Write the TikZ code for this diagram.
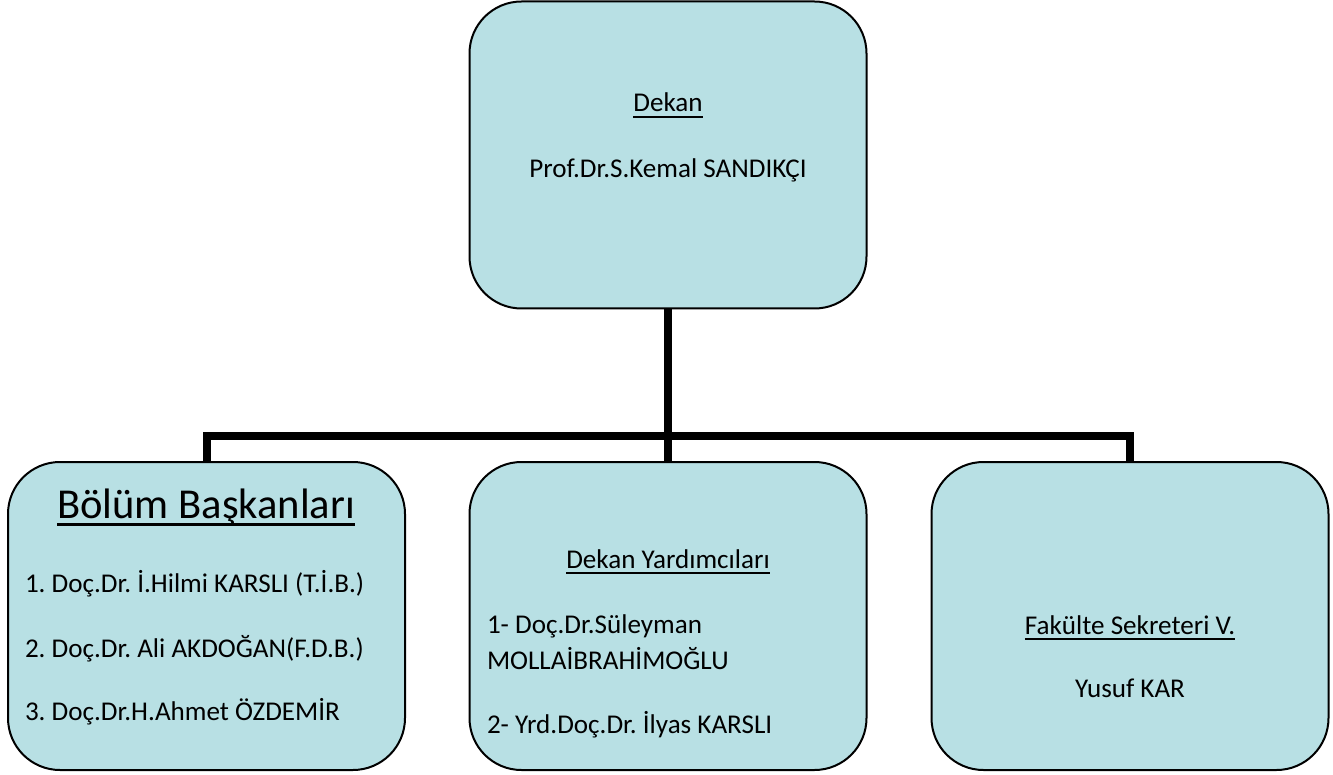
\documentclass[tikz,border=0pt]{standalone}
\usepackage{fontspec}
\setmainfont{Carlito}
\usetikzlibrary{backgrounds}
\definecolor{boxfill}{HTML}{B8E0E4}
\frenchspacing
\tikzset{
  orgbox/.style={draw=black, line width=2pt, fill=boxfill, rounded corners=52pt,
    minimum width=397pt, minimum height=308pt, inner sep=0pt},
  conn/.style={line width=8pt, line join=miter, line cap=butt},
  txt/.style={inner sep=0pt, outer sep=0pt, font=\frenchspacing\fontsize{27.1}{32}\selectfont},
  bigtxt/.style={inner sep=0pt, outer sep=0pt, font=\frenchspacing\fontsize{42.6}{50}\selectfont},
  uline/.style={line width=1.7pt},
}
\begin{document}
\begin{tikzpicture}[x=1pt,y=-1pt]
\useasboundingbox (0,0) rectangle (1333,775);
% boxes
\node[orgbox, minimum height=307pt] (top) at (668,155) {};
\node[orgbox] (bl) at (206.5,616) {};
\node[orgbox] (mid) at (668,616) {};
\node[orgbox] (br) at (1130,616) {};
\coordinate (bus) at (668,436);
% connectors
\begin{pgfonlayer}{background}
\draw[conn] (top.south) -- (mid.north);
\draw[conn] (bl.north) |- (bus) -| (br.north);
\end{pgfonlayer}
% texts top
\node[txt, anchor=base] (tdekan) at (668,112) {Dekan};
\draw[uline] ([yshift=-5pt]tdekan.base west) -- ([yshift=-5pt]tdekan.base east);
\node[txt, anchor=base] (tprof) at (668,178) {Prof.Dr.S.Kemal SANDIKÇI};
% left box
\node[bigtxt, anchor=base] (tbolum) at (206,518) {Bölüm Başkanları};
\draw[uline, line width=2.5pt] ([yshift=-6.5pt]tbolum.base west) -- ([yshift=-6.5pt]tbolum.base east);
\node[txt, anchor=base west] (l1) at (25,592) {1. Doç.Dr. İ.Hilmi KARSLI (T.İ.B.)};
\node[txt, anchor=base west] (l2) at (25,657) {2. Doç.Dr. Ali AKDOĞAN(F.D.B.)};
\node[txt, anchor=base west] (l3) at (25,720) {3. Doç.Dr.H.Ahmet ÖZDEMİR};
% middle box
\node[txt, anchor=base] (tdy) at (668,568) {Dekan Yardımcıları};
\draw[uline] ([yshift=-5pt]tdy.base west) -- ([yshift=-5pt]tdy.base east);
\node[txt, anchor=base west] (m1) at (487,633) {1- Doç.Dr.Süleyman};
\node[txt, anchor=base west] (m2) at (487,669) {MOLLAİBRAHİMOĞLU};
\node[txt, anchor=base west] (m3) at (487,733) {2- Yrd.Doç.Dr. İlyas KARSLI};
% right box
\node[txt, anchor=base] (tfs) at (1130,634) {Fakülte Sekreteri V.};
\draw[uline] ([yshift=-5pt]tfs.base west) -- ([yshift=-5pt]tfs.base east);
\node[txt, anchor=base] (tyk) at (1130,697) {Yusuf KAR};
\end{tikzpicture}
\end{document}
